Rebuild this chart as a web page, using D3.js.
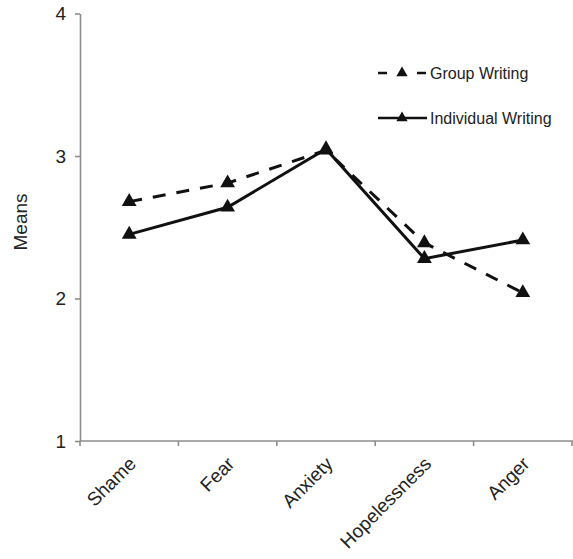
<!DOCTYPE html>
<html>
<head>
<meta charset="utf-8">
<script src="https://cdn.jsdelivr.net/npm/d3@7/dist/d3.min.js"></script>
<style>
  html, body { margin: 0; padding: 0; background: #fff; }
  svg { display: block; font-family: "Liberation Sans", Arial, sans-serif; }
</style>
</head>
<body>
<svg id="chart" width="573" height="559"></svg>
<script>
// Emotion categories on the x axis
const categories = ["Shame", "Fear", "Anxiety", "Hopelessness", "Anger"];
// Mean scores per writing condition
const groupWriting = [2.68, 2.81, 3.04, 2.39, 2.04];
const individualWriting = [2.45, 2.64, 3.05, 2.28, 2.41];
const yTicks = [1, 2, 3, 4];
const seriesNames = ["Group Writing", "Individual Writing"];

const svg = d3.select("#chart");
const plotLeft = 80, plotRight = 572, plotTop = 13.5, plotBottom = 441;
const axisColor = "#8c8c8c";
const inkColor = "#111";
const textColor = "#222";

const x = d3.scaleBand().domain(categories).range([plotLeft, plotRight]).padding(0);
const y = d3.scaleLinear().domain([1, 4]).range([plotBottom, plotTop]);

// Y axis
const yAxis = svg.append("g").attr("transform", `translate(${plotLeft},0)`)
  .call(d3.axisLeft(y).tickValues(yTicks).tickFormat(d3.format("d")).tickSize(5).tickSizeOuter(0));
yAxis.select(".domain").attr("stroke", axisColor).attr("stroke-width", 1.6);
yAxis.selectAll(".tick line").attr("stroke", axisColor).attr("stroke-width", 1.6);
yAxis.selectAll(".tick text").attr("font-size", 19).attr("fill", textColor)
  .attr("x", -14).attr("font-family", "Liberation Sans, Arial, sans-serif");

// X axis line with ticks at category boundaries
const xg = svg.append("g");
xg.append("line").attr("x1", plotLeft).attr("x2", plotRight + 1).attr("y1", plotBottom).attr("y2", plotBottom)
  .attr("stroke", axisColor).attr("stroke-width", 1.6);
const bounds = categories.map(c => x(c)).concat([x(categories[categories.length - 1]) + x.step()]);
xg.selectAll("line.b").data(bounds).join("line").attr("class", "b")
  .attr("x1", d => d).attr("x2", d => d).attr("y1", plotBottom).attr("y2", plotBottom + 5)
  .attr("stroke", axisColor).attr("stroke-width", 1.6);

// Rotated category labels
xg.selectAll("text.cat").data(categories).join("text").attr("class", "cat")
  .attr("transform", d => `translate(${x(d) + x.bandwidth() / 2 + 8},${plotBottom + 24}) rotate(-45)`)
  .attr("text-anchor", "end")
  .attr("font-size", 19).attr("fill", textColor)
  .text(d => d);

// Y axis title
svg.append("text")
  .attr("transform", `translate(27,222) rotate(-90)`)
  .attr("text-anchor", "middle").attr("font-size", 19).attr("fill", textColor)
  .text("Means");

const cx = d => x(d) + x.bandwidth() / 2;
const line = d3.line().x(d => cx(d.c)).y(d => y(d.v));
const tri = d3.symbol().type(d3.symbolTriangle);

function drawSeries(values, dash) {
  const pts = categories.map((c, i) => ({ c, v: values[i] }));
  svg.append("path").datum(pts).attr("d", line)
    .attr("fill", "none").attr("stroke", inkColor).attr("stroke-width", 3)
    .attr("stroke-dasharray", dash);
  svg.append("g").selectAll("path").data(pts).join("path")
    .attr("transform", d => `translate(${cx(d.c)},${y(d.v)})`)
    .attr("d", tri.size(95)()).attr("fill", inkColor);
}
drawSeries(groupWriting, "13,11");
drawSeries(individualWriting, null);

// Legend
const legend = svg.append("g");
const legendRows = [
  { name: seriesNames[0], y: 73, dash: "9,30" },
  { name: seriesNames[1], y: 118, dash: null }
];
legendRows.forEach(r => {
  legend.append("line").attr("x1", 378).attr("x2", 427).attr("y1", r.y).attr("y2", r.y)
    .attr("stroke", inkColor).attr("stroke-width", 2.6).attr("stroke-dasharray", r.dash);
  legend.append("path").attr("transform", `translate(402,${r.y})`)
    .attr("d", d3.symbol().type(d3.symbolTriangle).size(55)()).attr("fill", inkColor);
  legend.append("text").attr("x", 430).attr("y", r.y).attr("dy", "0.35em")
    .attr("font-size", 16).attr("fill", textColor).text(r.name);
});
</script>
</body>
</html>
